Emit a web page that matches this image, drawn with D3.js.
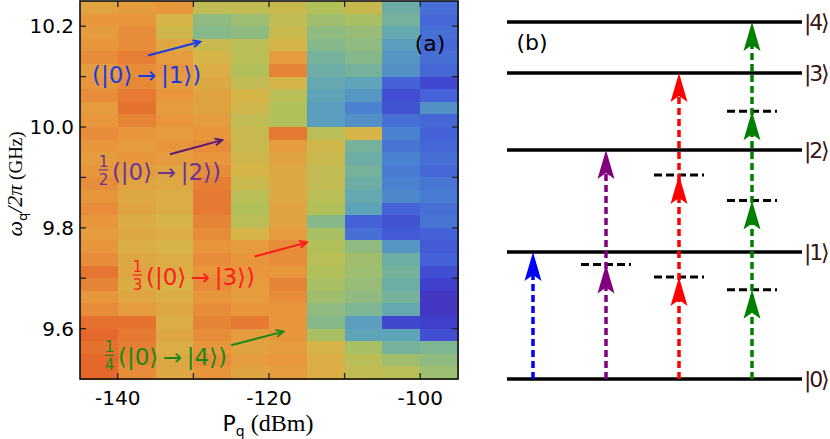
<!DOCTYPE html>
<html>
<head>
<meta charset="utf-8">
<script src="https://cdn.jsdelivr.net/npm/d3@7"></script>
<style>
  body { margin: 0; background: #fff; }
  svg { display: block; }
</style>
</head>
<body>
<svg id="fig" width="830" height="439"></svg>
<script>
//? DATA — panel (a): power columns (dBm, column centres) and response per frequency bin
const powers = [-142.5, -137.5, -132.5, -127.5, -122.5, -117.5, -112.5, -107.5, -102.5, -97.5]
const freqTop = 10.25
const freqStep = 0.025
// each column lists 30 bins from 10.25 GHz downwards, 0 = deep blue ... 1 = red
const col145 = [0.76, 0.8, 0.78, 0.8, 0.82, 0.78, 0.8, 0.82, 0.78, 0.8, 0.82, 0.8, 0.78, 0.8, 0.82, 0.8, 0.82, 0.8, 0.78, 0.8, 0.82, 0.87, 0.84, 0.8, 0.82, 0.88, 0.9, 0.88, 0.9, 0.9]
const col140 = [0.78, 0.8, 0.82, 0.82, 0.85, 0.82, 0.83, 0.86, 0.88, 0.84, 0.8, 0.78, 0.8, 0.78, 0.76, 0.74, 0.75, 0.73, 0.74, 0.72, 0.74, 0.75, 0.73, 0.75, 0.78, 0.88, 0.86, 0.85, 0.84, 0.82]
const col135 = [0.8, 0.7, 0.68, 0.74, 0.78, 0.8, 0.78, 0.8, 0.78, 0.8, 0.78, 0.8, 0.78, 0.76, 0.74, 0.72, 0.72, 0.7, 0.72, 0.7, 0.72, 0.72, 0.7, 0.72, 0.74, 0.72, 0.74, 0.72, 0.74, 0.74]
const col130 = [0.64, 0.52, 0.5, 0.66, 0.7, 0.72, 0.74, 0.76, 0.76, 0.78, 0.8, 0.82, 0.8, 0.82, 0.85, 0.86, 0.86, 0.84, 0.82, 0.8, 0.82, 0.8, 0.82, 0.8, 0.82, 0.84, 0.82, 0.8, 0.82, 0.8]
const col125 = [0.64, 0.55, 0.52, 0.62, 0.62, 0.6, 0.64, 0.7, 0.68, 0.64, 0.66, 0.66, 0.68, 0.7, 0.66, 0.62, 0.6, 0.62, 0.7, 0.78, 0.8, 0.8, 0.78, 0.78, 0.8, 0.86, 0.78, 0.76, 0.78, 0.76]
const col120 = [0.66, 0.64, 0.66, 0.7, 0.78, 0.84, 0.7, 0.62, 0.6, 0.6, 0.86, 0.78, 0.76, 0.74, 0.74, 0.74, 0.76, 0.76, 0.78, 0.82, 0.82, 0.8, 0.84, 0.82, 0.8, 0.8, 0.8, 0.78, 0.8, 0.78]
const col115 = [0.6, 0.56, 0.52, 0.5, 0.46, 0.44, 0.42, 0.4, 0.38, 0.38, 0.62, 0.68, 0.66, 0.64, 0.64, 0.62, 0.6, 0.5, 0.58, 0.6, 0.62, 0.6, 0.58, 0.56, 0.52, 0.5, 0.58, 0.7, 0.72, 0.72]
const col110 = [0.66, 0.58, 0.54, 0.52, 0.5, 0.46, 0.4, 0.36, 0.3, 0.34, 0.7, 0.46, 0.44, 0.46, 0.44, 0.42, 0.4, 0.2, 0.24, 0.52, 0.56, 0.55, 0.54, 0.52, 0.48, 0.38, 0.4, 0.58, 0.62, 0.64]
const col105 = [0.44, 0.46, 0.42, 0.38, 0.36, 0.34, 0.2, 0.14, 0.16, 0.24, 0.3, 0.26, 0.3, 0.28, 0.3, 0.32, 0.2, 0.16, 0.18, 0.36, 0.44, 0.46, 0.44, 0.46, 0.42, 0.12, 0.4, 0.46, 0.56, 0.62]
const col100 = [0.24, 0.22, 0.24, 0.22, 0.24, 0.22, 0.12, 0.2, 0.34, 0.22, 0.2, 0.22, 0.24, 0.22, 0.26, 0.28, 0.24, 0.26, 0.2, 0.18, 0.2, 0.14, 0.1, 0.06, 0.06, 0.1, 0.14, 0.48, 0.52, 0.55]
const columns = [col145, col140, col135, col130, col125, col120, col115, col110, col105, col100]

const xTicks = [-140, -130, -120, -110, -100]
const xTickLabels = ['-140', '', '-120', '', '-100']
const yTicks = [9.6, 9.7, 9.8, 9.9, 10.0, 10.1, 10.2]
const yTickLabels = ['9.6', '', '9.8', '', '10.0', '', '10.2']

//? annotations in panel (a): order n, colour, text start, arrow tail, arrow tip (data units)
const annoOrder = [1, 2, 3, 4]
const annoColors = ['#1a3ce8', '#6a3696', '#ff1c1c', '#178a17']
const arrowColors = ['#1a3ce8', '#5a1878', '#ff1c1c', '#178a17']
const annoTextPos = [[-143.4, 10.088], [-142.5, 9.895], [-138.0, 9.6865], [-141.7, 9.527]]
const annoTail = [[-136.0, 10.142], [-133.1, 9.946], [-121.9, 9.743], [-125.0, 9.567]]
const annoTip = [[-129.1, 10.169], [-126.2, 9.974], [-115.0, 9.771], [-118.1, 9.594]]

//? DATA — panel (b): level energies (relative)
const levelEnergy = [0, 1, 1.803, 2.409, 2.811]
const levelLabels = ['|0⟩', '|1⟩', '|2⟩', '|3⟩', '|4⟩']
const transitions = [1, 2, 3, 4]
const transitionColors = ['#0000ff', '#800080', '#ff0000', '#008000']

//* ========== SETUP =============
const svg = d3.select('#fig')
const plot = { left: 80, right: 458, top: 1, bottom: 379 }

const x = d3.scaleLinear().domain([-145, -95]).range([plot.left, plot.right])
const y = d3.scaleLinear().domain([9.5, 10.25]).range([plot.bottom, plot.top])

const color = d3
  .scaleLinear()
  .domain([0, 0.1, 0.2, 0.3, 0.4, 0.5, 0.6, 0.7, 0.8, 0.9, 1])
  .range(['#4a2ab0', '#4040cc', '#4562d8', '#4a82d0', '#5ea4b8', '#86b98a', '#b2c05a', '#d6b447', '#e8963c', '#e4682c', '#d8361f'])
  .interpolate(d3.interpolateRgb)

//? HEATMAP
const cells = []
columns.forEach((col, ci) => {
  col.forEach((v, ri) => {
    cells.push({ p: powers[ci], f: freqTop - ri * freqStep, v })
  })
})

const heat = svg.append('g')
heat
  .selectAll('rect')
  .data(cells)
  .enter()
  .append('rect')
  .attr('x', d => x(d.p - 2.5))
  .attr('y', d => y(d.f))
  .attr('width', d => x(d.p + 2.5) - x(d.p - 2.5) + 0.5)
  .attr('height', d => y(d.f - freqStep) - y(d.f) + 0.5)
  .attr('fill', d => color(d.v))
  .attr('shape-rendering', 'crispEdges')

//? AXES (ticks inward on all sides)
const tickLen = 6
const axisG = svg.append('g').attr('stroke', '#222').attr('stroke-width', 1.3)
xTicks.forEach(t => {
  axisG.append('line').attr('x1', x(t)).attr('x2', x(t)).attr('y1', plot.bottom).attr('y2', plot.bottom - tickLen)
  axisG.append('line').attr('x1', x(t)).attr('x2', x(t)).attr('y1', plot.top).attr('y2', plot.top + tickLen)
})
yTicks.forEach(t => {
  axisG.append('line').attr('x1', plot.left).attr('x2', plot.left + tickLen).attr('y1', y(t)).attr('y2', y(t))
  axisG.append('line').attr('x1', plot.right).attr('x2', plot.right - tickLen).attr('y1', y(t)).attr('y2', y(t))
})

svg
  .append('rect')
  .attr('x', plot.left)
  .attr('y', plot.top)
  .attr('width', plot.right - plot.left)
  .attr('height', plot.bottom - plot.top)
  .attr('fill', 'none')
  .attr('stroke', '#111')
  .attr('stroke-width', 1.6)

svg
  .append('g')
  .selectAll('text')
  .data(xTicks)
  .enter()
  .append('text')
  .attr('x', d => x(d))
  .attr('y', 405)
  .attr('text-anchor', 'middle')
  .attr('font-family', 'DejaVu Sans')
  .attr('font-size', 20)
  .text((d, i) => xTickLabels[i])

svg
  .append('g')
  .selectAll('text')
  .data(yTicks)
  .enter()
  .append('text')
  .attr('x', 74)
  .attr('y', d => y(d) + 7)
  .attr('text-anchor', 'end')
  .attr('font-family', 'DejaVu Sans')
  .attr('font-size', 20)
  .text((d, i) => yTickLabels[i])

//? AXIS LABELS
const xLabel = svg
  .append('text')
  .attr('x', 268)
  .attr('y', 431)
  .attr('text-anchor', 'middle')
  .attr('font-size', 24)
xLabel.append('tspan').attr('font-family', 'DejaVu Sans').attr('font-size', 22).text('P')
xLabel.append('tspan').attr('font-family', 'DejaVu Sans').attr('font-size', 14).attr('dy', 5).text('q')
xLabel.append('tspan').attr('font-family', 'Liberation Serif').attr('dy', -5).text(' (dBm)')

const yLabel = svg
  .append('text')
  .attr('transform', 'translate(22, 184) rotate(-90)')
  .attr('text-anchor', 'middle')
  .attr('font-size', 19)
yLabel.append('tspan').attr('font-family', 'Liberation Serif').attr('font-style', 'italic').attr('font-size', 22).text('ω')
yLabel.append('tspan').attr('font-family', 'DejaVu Sans').attr('font-size', 13).attr('dy', 5).text('q')
yLabel.append('tspan').attr('font-family', 'Liberation Serif').attr('font-style', 'italic').attr('font-size', 22).attr('dy', -5).text('/2π')
yLabel.append('tspan').attr('font-family', 'Liberation Serif').text(' (GHz)')

svg
  .append('text')
  .attr('x', 430)
  .attr('y', 51)
  .attr('text-anchor', 'middle')
  .attr('font-family', 'DejaVu Sans')
  .attr('font-size', 22)
  .text('(a)')

//? ANNOTATIONS
const anno = svg.append('g')
annoOrder.forEach((n, i) => {
  const c = annoColors[i]
  const tx = x(annoTextPos[i][0])
  const ty = y(annoTextPos[i][1])
  let start = tx
  if (n > 1) {
    // stacked fraction 1/n
    anno.append('text').attr('x', tx + 4.5).attr('y', ty - 13).attr('text-anchor', 'middle')
      .attr('font-family', 'DejaVu Sans').attr('font-size', 15).attr('fill', c).text('1')
    anno.append('line').attr('x1', tx).attr('x2', tx + 9).attr('y1', ty - 10).attr('y2', ty - 10)
      .attr('stroke', c).attr('stroke-width', 1.2)
    anno.append('text').attr('x', tx + 4.5).attr('y', ty + 5).attr('text-anchor', 'middle')
      .attr('font-family', 'DejaVu Sans').attr('font-size', 15).attr('fill', c).text(n)
    start = tx + 13
  }
  anno.append('text')
    .attr('x', start)
    .attr('y', ty)
    .attr('font-family', 'DejaVu Sans')
    .attr('font-size', 23)
    .attr('fill', c)
    .text(`(|0⟩\u2009→\u2009|${n}⟩)`)

  const x0 = x(annoTail[i][0])
  const y0 = y(annoTail[i][1])
  const x1 = x(annoTip[i][0])
  const y1 = y(annoTip[i][1])
  const ang = Math.atan2(y1 - y0, x1 - x0)
  const hl = 8
  const ha = 0.45
  anno.append('line').attr('x1', x0).attr('y1', y0).attr('x2', x1).attr('y2', y1)
    .attr('stroke', arrowColors[i]).attr('stroke-width', 2)
  anno.append('path')
    .attr('d', `M${x1 - hl * Math.cos(ang - ha)},${y1 - hl * Math.sin(ang - ha)} L${x1},${y1} L${x1 - hl * Math.cos(ang + ha)},${y1 - hl * Math.sin(ang + ha)}`)
    .attr('fill', 'none').attr('stroke', arrowColors[i]).attr('stroke-width', 2)
})

//* ========== PANEL (b) =============
const lx = d3.scaleLinear().domain([1, 4]).range([533, 752])
const ly = d3.scaleLinear().domain([0, levelEnergy[4]]).range([379, 22])
const lineLeft = 507
const lineRight = 802

const pb = svg.append('g')

pb.selectAll('line.level')
  .data(levelEnergy)
  .enter()
  .append('line')
  .attr('class', 'level')
  .attr('x1', lineLeft)
  .attr('x2', lineRight)
  .attr('y1', d => ly(d))
  .attr('y2', d => ly(d))
  .attr('stroke', '#000')
  .attr('stroke-width', 3.4)

pb.selectAll('text.ket')
  .data(levelEnergy)
  .enter()
  .append('text')
  .attr('class', 'ket')
  .attr('x', 804)
  .attr('y', d => ly(d) + 8)
  .attr('font-family', 'DejaVu Sans')
  .attr('font-size', 22)
  .attr('letter-spacing', -2.2)
  .attr('fill', '#3a1414')
  .text((d, i) => levelLabels[i])

pb.append('text')
  .attr('x', 532)
  .attr('y', 50)
  .attr('text-anchor', 'middle')
  .attr('font-family', 'DejaVu Sans')
  .attr('font-size', 22)
  .text('(b)')

const headL = 29
const headW = 17
const notch = 6
transitions.forEach((n, i) => {
  const cx = lx(n)
  const c = transitionColors[i]
  const step = levelEnergy[n] / n
  // virtual levels
  for (let k = 1; k < n; k++) {
    pb.append('line')
      .attr('x1', cx - 25)
      .attr('x2', cx + 25)
      .attr('y1', ly(k * step))
      .attr('y2', ly(k * step))
      .attr('stroke', '#000')
      .attr('stroke-width', 3)
      .attr('stroke-dasharray', '8,4')
  }
  // dashed shaft
  pb.append('line')
    .attr('x1', cx)
    .attr('x2', cx)
    .attr('y1', ly(0))
    .attr('y2', ly(levelEnergy[n]) + headL - notch)
    .attr('stroke', c)
    .attr('stroke-width', 3.5)
    .attr('stroke-dasharray', '7,4')
  // heads
  for (let k = 1; k <= n; k++) {
    const ty = ly(k * step)
    pb.append('path')
      .attr('d', `M${cx},${ty} L${cx + headW / 2},${ty + headL} L${cx},${ty + headL - notch} L${cx - headW / 2},${ty + headL} Z`)
      .attr('fill', c)
  }
})
</script>
</body>
</html>
